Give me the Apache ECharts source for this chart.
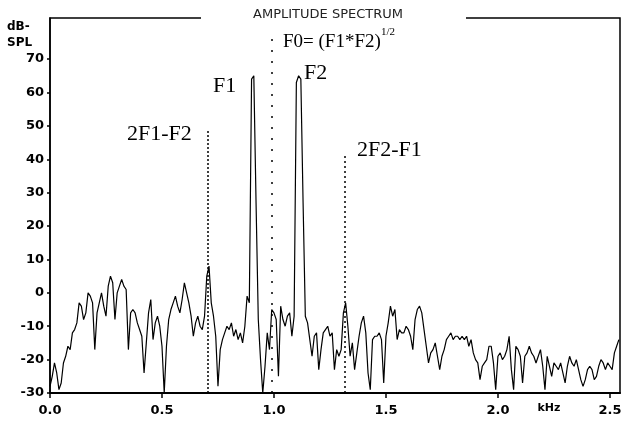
<!DOCTYPE html>
<html>
<head>
<meta charset="utf-8">
<script src="https://cdn.jsdelivr.net/npm/echarts@6/dist/echarts.min.js"></script>
<style>
  html, body { margin: 0; padding: 0; background: #fff; }
  #chart { width: 628px; height: 425px; }
</style>
</head>
<body>
<div id="chart"></div>
<script>
// ---- data ----
const freqStepKHz = 0.01;               // sampling grid of the spectrum (kHz)
const spectrumDb = [
  -28,-25,-21,-24,-29,-27,-21,-19,-16,-17,
  -12,-11,-9,-3,-4,-8,-6,0,-1,-3,
  -17,-6,-3,0,-4,-7,2,5,3,-8,
  0,2,4,2,1,-17,-6,-5,-6,-9,
  -11,-13,-24,-15,-6,-2,-14,-9,-7,-10,
  -16,-30,-16,-8,-5,-3,-1,-4,-6,-2,
  3,0,-3,-7,-13,-9,-7,-10,-11,-7,
  5,8,-3,-7,-13,-28,-17,-14,-12,-10,
  -11,-9,-13,-11,-14,-12,-15,-10,-1,-3,
  64,65,27,-8,-20,-30,-22,-12,-17,-5,
  -6,-8,-25,-4,-8,-10,-7,-6,-13,-7,
  63,65,64,27,-7,-9,-14,-19,-13,-12,
  -23,-17,-12,-11,-10,-13,-12,-23,-17,-19,
  -17,-6,-3,-10,-19,-15,-23,-18,-13,-9,
  -7,-12,-24,-29,-14,-13,-13,-12,-14,-27,
  -13,-9,-4,-7,-5,-14,-11,-12,-12,-10,
  -11,-13,-17,-8,-5,-4,-6,-11,-16,-21,
  -18,-17,-15,-19,-23,-19,-17,-14,-13,-12,
  -14,-13,-13,-14,-13,-14,-13,-16,-14,-18,
  -20,-21,-26,-22,-21,-20,-16,-16,-21,-29,
  -19,-18,-20,-19,-17,-13,-23,-29,-16,-17,
  -19,-27,-19,-18,-16,-18,-19,-21,-19,-17,
  -22,-29,-19,-22,-25,-21,-22,-23,-21,-24,
  -27,-22,-19,-21,-22,-20,-23,-26,-28,-26,
  -23,-22,-23,-26,-25,-22,-20,-21,-23,-21,
  -22,-23,-18,-16,-14
];
const xTicks = [0, 0.5, 1.0, 1.5, 2.0, 2.5];
const yTicks = [-30, -20, -10, 0, 10, 20, 30, 40, 50, 60, 70];
const markerNames = ['2F1-F2', 'F0', '2F2-F1'];
const markerFreqs = [0.705, 0.99, 1.317];
const markerTops  = [48.5, 76, 41.6];
const markerDash  = [[2, 2], [2, 9], [2, 3]];

// ---- build ----
const seriesData = spectrumDb.map((v, i) => [+(i * freqStepKHz).toFixed(3), v]);
const markLineData = markerFreqs.map((f, i) => ([
  { coord: [f, -30], lineStyle: { type: markerDash[i], color: '#000', width: 1.5 }, name: markerNames[i] },
  { coord: [f, markerTops[i]] }
]));

const chart = echarts.init(document.getElementById('chart'), null, { renderer: 'canvas' });
const labelFont = { fontFamily: 'DejaVu Sans', fontWeight: 'bold', fontSize: 13, color: '#000' };
const serif = '"Liberation Serif", "DejaVu Serif", serif';

chart.setOption({
  animation: false,
  backgroundColor: '#fff',
  grid: { left: 50, right: 8, top: 18, bottom: 32, show: true, borderColor: '#000', borderWidth: 1.5 },
  xAxis: {
    type: 'value', min: 0, max: 2.545,
    axisLine: { show: true, onZero: false, lineStyle: { color: '#000', width: 2 } },
    axisTick: { show: true, inside: false, length: 5, customValues: xTicks, lineStyle: { color: '#000', width: 1.5 } },
    axisLabel: Object.assign({ customValues: xTicks, margin: 11, formatter: v => v.toFixed(1) }, labelFont),
    splitLine: { show: false }
  },
  yAxis: {
    type: 'value', min: -30, max: 82.3,
    axisLine: { show: true, onZero: false, lineStyle: { color: '#000', width: 1.5 } },
    axisTick: { show: true, inside: false, length: 3, customValues: yTicks, lineStyle: { color: '#000', width: 1.5 } },
    axisLabel: Object.assign({ customValues: yTicks, margin: 6, formatter: v => String(v) }, labelFont),
    splitLine: { show: false }
  },
  series: [{
    type: 'line',
    data: seriesData,
    showSymbol: false,
    symbol: 'none',
    lineStyle: { color: '#000', width: 1.2 },
    z: 3,
    markLine: {
      silent: true, symbol: ['none', 'none'],
      label: { show: false },
      data: markLineData
    }
  }],
  graphic: [
    { type: 'rect', shape: { x: 201, y: 10, width: 265, height: 14 }, style: { fill: '#fff' }, z: 100 },
    { type: 'text', x: 328, y: 15, z: 101,
      style: { text: 'AMPLITUDE SPECTRUM', font: '13px "DejaVu Sans"', fill: '#222', align: 'center', verticalAlign: 'middle' } },
    { type: 'text', x: 7, y: 27, z: 101,
      style: { text: 'dB-', font: 'bold 12px "DejaVu Sans"', fill: '#000', align: 'left', verticalAlign: 'middle' } },
    { type: 'text', x: 7, y: 43, z: 101,
      style: { text: 'SPL', font: 'bold 12px "DejaVu Sans"', fill: '#000', align: 'left', verticalAlign: 'middle' } },
    { type: 'text', x: 283, y: 42, z: 101,
      style: { text: 'F0= (F1*F2)', font: '19px ' + serif, fill: '#000', align: 'left', verticalAlign: 'middle' } },
    { type: 'text', x: 381, y: 32, z: 101,
      style: { text: '1/2', font: '11px ' + serif, fill: '#000', align: 'left', verticalAlign: 'middle' } },
    { type: 'text', x: 213, y: 86, z: 101,
      style: { text: 'F1', font: '22px ' + serif, fill: '#000', align: 'left', verticalAlign: 'middle' } },
    { type: 'text', x: 304, y: 73, z: 101,
      style: { text: 'F2', font: '22px ' + serif, fill: '#000', align: 'left', verticalAlign: 'middle' } },
    { type: 'text', x: 127, y: 134, z: 101,
      style: { text: '2F1-F2', font: '22px ' + serif, fill: '#000', align: 'left', verticalAlign: 'middle' } },
    { type: 'text', x: 357, y: 150, z: 101,
      style: { text: '2F2-F1', font: '22px ' + serif, fill: '#000', align: 'left', verticalAlign: 'middle' } },
    { type: 'text', x: 549, y: 408, z: 101,
      style: { text: 'kHz', font: 'bold 11px "DejaVu Sans"', fill: '#000', align: 'center', verticalAlign: 'middle' } }
  ]
});
</script>
</body>
</html>
